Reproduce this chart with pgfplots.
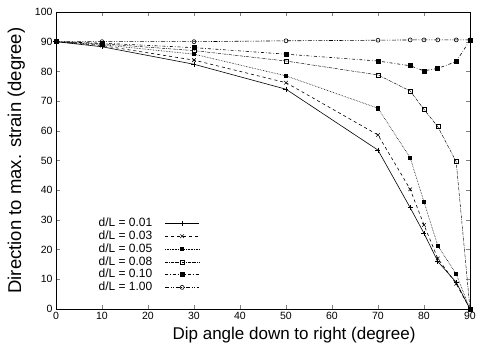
\documentclass[border=0pt]{standalone}
\usepackage{pgfplots}
\pgfplotsset{compat=1.18}
\usepackage{fontspec}
\setmainfont{Liberation Sans}
\begin{document}
\begin{tikzpicture}
\begin{axis}[
  scale only axis,
  width=414pt, height=297pt,
  xmin=0, xmax=90, ymin=0, ymax=100,
  xtick={0,10,...,90}, ytick={0,10,...,100},
  tick align=inside,
  major tick length=4pt,
  tick label style={font=\fontsize{10.5}{11}\selectfont},
  /pgf/number format/assume math mode=true,
  xlabel={Dip angle down to right (degree)},
  ylabel={Direction to max. strain (degree)},
  xlabel style={font=\fontsize{17}{18}\selectfont, at={(axis description cs:0.575,-0.087)}, anchor=center},
  ylabel style={font=\fontsize{18.5}{20}\selectfont, at={(axis description cs:-0.096,0.5)}, anchor=center},
  axis line style={line width=0.9pt},
  legend plot pos=right,
  legend style={draw=none, fill=none, at={(axis description cs:0.094,0.315)}, anchor=north west,
    font=\fontsize{12}{12}\selectfont, row sep=1.3pt, column sep=12pt,
    nodes={inner sep=0.5pt, text height=8.5pt, text depth=2pt}},
  legend cell align=left,
  legend image code/.code={\draw[mark repeat=2,mark phase=2,#1] plot coordinates {(0pt,0pt) (17pt,0pt) (34pt,0pt)};},
  every axis plot/.append style={black, line width=0.6pt},
]
\addplot[solid, mark=+, mark size=2.5pt] coordinates {
(0,90) (10,88.3) (30,82.4) (50,74) (70,53.5) (77,34.1) (80,25.5) (83,16) (87,9) (90,0)};
\addlegendentry{d/L = 0.01}
\addplot[dashed, mark=x, mark size=2.5pt, mark options={solid}] coordinates {
(0,90) (10,88.7) (30,83.8) (50,76.2) (70,58.6) (77,40.3) (80,28.3) (83,17) (87,8.5) (90,0)};
\addlegendentry{d/L = 0.03}
\addplot[densely dotted, mark=square*, mark size=1.6pt, mark options={solid}] coordinates {
(0,90) (10,89) (30,85.8) (50,78.5) (70,67.6) (77,50.9) (80,36.1) (83,21.3) (87,11.8) (90,0)};
\addlegendentry{d/L = 0.05}
\addplot[densely dashdotted, line width=0.45pt, mark=square, mark size=2pt, mark options={solid}] coordinates {
(0,90) (10,89.3) (30,87) (50,83.5) (70,78.8) (77,73.4) (80,67.2) (83,61.4) (87,49.6) (90,0)};
\addlegendentry{d/L = 0.08}
\addplot[dashdotted, mark=square*, mark size=2pt, mark options={solid}] coordinates {
(0,90) (10,89.5) (30,88) (50,85.8) (70,83.5) (77,81.9) (80,80.2) (83,81) (87,83.3) (90,90.5)};
\addlegendentry{d/L = 0.10}
\addplot[dash pattern=on 4pt off 1.5pt on 1pt off 1.5pt on 1pt off 1.5pt, mark=o, mark size=2pt, mark options={solid}] coordinates {
(0,90) (10,90) (30,90) (50,90.3) (70,90.5) (77,90.6) (80,90.6) (83,90.6) (87,90.6) (90,90.6)};
\addlegendentry{d/L = 1.00}
\end{axis}
\pgfresetboundingbox
\path (-56pt,-50pt) rectangle (421pt,309pt);
\end{tikzpicture}
\end{document}
